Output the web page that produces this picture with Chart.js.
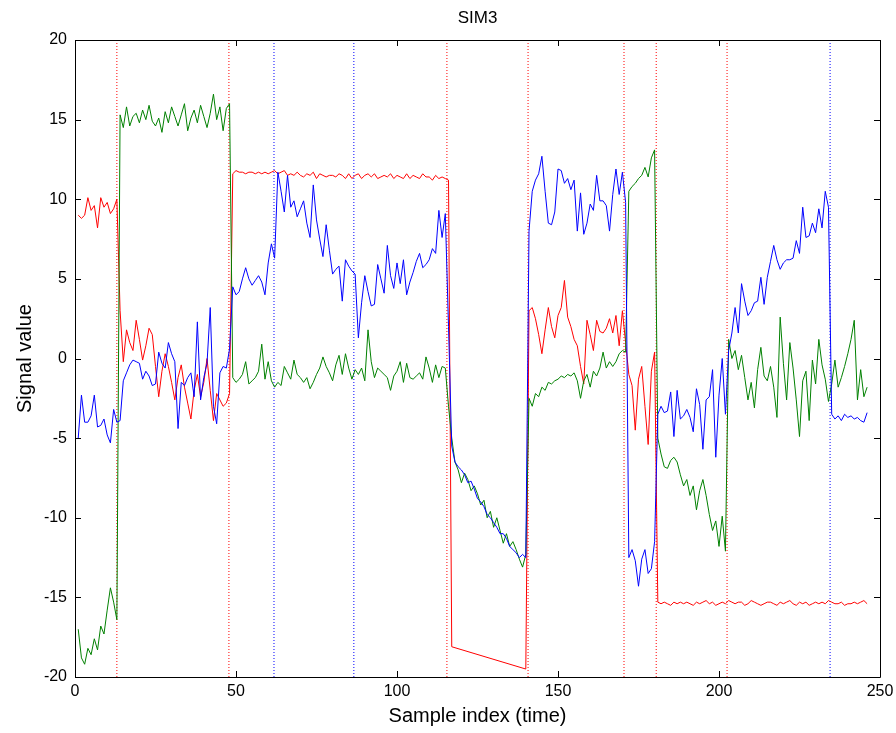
<!DOCTYPE html>
<html>
<head>
<meta charset="utf-8">
<script src="https://cdn.jsdelivr.net/npm/chart.js@4"></script>
<style>
  html, body { margin: 0; padding: 0; background: #fff; }
  #wrap { width: 896px; height: 733px; }
</style>
</head>
<body>
<div id="wrap"><canvas id="simChart" width="896" height="733"></canvas></div>
<script>
// sample values, index 1..246
const redValues = [
  9.0, 8.8, 9.0, 10.1, 9.3, 9.6, 8.2, 10.1, 9.5, 9.8, 9.1, 9.4, 10.0,
  3.0, -0.2, 1.8, 1.0, 0.5, 2.4, 1.2, -0.1, 0.8, 1.9, 1.5, -0.5, -2.4, -0.8, 0.3, -0.5, -1.5, -2.6, -1.2, -0.4,
  -1.8, -2.8, -3.8, -2.0, -1.0, -2.4, -1.5, 0.0, -2.0, -3.9, -2.2, -2.6, -3.0, -2.8, -2.2,
  11.6, 11.8, 11.7, 11.7, 11.6, 11.7, 11.7, 11.6, 11.7, 11.6,
  11.7, 11.6, 11.7, 11.8, 11.6, 11.7, 11.8, 11.5, 11.6, 11.5,
  11.7, 11.5, 11.4, 11.6, 11.5, 11.7, 11.3, 11.6, 11.5, 11.4,
  11.5, 11.5, 11.4, 11.6, 11.5, 11.3, 11.6, 11.3, 11.5, 11.6,
  11.3, 11.5, 11.6, 11.4, 11.6, 11.3, 11.4, 11.5, 11.4, 11.6,
  11.3, 11.5, 11.4, 11.3, 11.6, 11.3, 11.5, 11.4, 11.3, 11.6,
  11.4, 11.4, 11.2, 11.5, 11.3, 11.4, 11.3, 11.2,
  -18.1, null, null, null, null, null, null, null, null, null, null, null,
  null, null, null, null, null, null, null, null, null, null, null, -19.5,
  3.0, 3.2, 2.5, 1.5, 0.3, 1.8, 3.2, 2.0, 1.3, 2.7,
  3.2, 4.9, 2.6, 2.0, 1.2, 0.8, -0.5, -1.6, 2.4, 1.5,
  0.5, 2.4, 1.7, 1.6, 1.9, 2.5, 1.6, 2.7, 0.8, 3.0, 1.0,
  -1.0, -1.7, -4.5, -1.3, -0.5, -3.0, -5.4, -0.8, 0.4,
  -15.3, -15.4, -15.3, -15.4, -15.5, -15.3, -15.4, -15.3, -15.4, -15.3,
  -15.4, -15.5, -15.3, -15.4, -15.3, -15.2, -15.4, -15.3, -15.5, -15.4,
  -15.3, -15.4, -15.2, -15.3, -15.4, -15.3, -15.3, -15.5, -15.4, -15.2,
  -15.3, -15.4, -15.5, -15.4, -15.3, -15.3, -15.4, -15.5, -15.3, -15.4,
  -15.3, -15.2, -15.4, -15.5, -15.3, -15.4, -15.3, -15.5, -15.4, -15.3,
  -15.4, -15.3, -15.4, -15.2, -15.3, -15.4, -15.4, -15.3, -15.5, -15.4,
  -15.4, -15.3, -15.4, -15.3, -15.2, -15.4
];

const greenValues = [
  -17.0, -18.8, -19.2, -18.2, -18.6, -17.6, -18.3, -16.8, -17.3, -15.8, -14.4, -15.3, -16.4,
  15.3, 14.5, 15.8, 14.6, 15.2, 15.4, 14.8, 15.6, 15.0, 15.9,
  14.9, 14.6, 15.1, 14.2, 15.5, 14.8, 15.8, 15.2, 14.6, 15.3,
  16.0, 14.3, 15.1, 15.6, 14.8, 15.9, 15.2, 14.5, 15.4, 16.6,
  15.0, 15.8, 14.3, 15.7, 16.0,
  -1.2, -1.5, -1.3, -1.0, -0.2, -1.6, -1.4, -1.2, -0.8, 0.9,
  -1.3, -0.2, -1.4, -1.8, -1.5, -1.7, -0.5, -0.9, -1.3, -0.1,
  -1.0, -1.2, -1.5, -1.2, -1.9, -1.5, -1.0, -0.6, 0.1, -0.5,
  -0.9, -1.4, -0.4, 0.2, -1.0, 0.3, -0.6, -1.3, -0.7, -1.0,
  -0.6, -1.4, 1.8, -0.2, -1.2, -0.6, -0.8, -1.0, -1.2, -2.0,
  -1.1, -0.8, -0.2, -1.5, -0.3, -1.2, -1.3, -1.1, -0.9, -1.3,
  0.1, -0.6, -1.5, -0.4, -1.2, -0.5, -0.6, -3.0,
  -5.0, -6.5, -7.0, -7.8, -7.2, -7.6, -8.3, -8.0, -8.5, -9.2,
  -8.9, -10.0, -9.6, -10.6, -10.0, -10.8, -11.6, -11.0, -11.8, -11.5,
  -12.0, -12.6, -13.1, -12.3,
  -2.5, -3.0, -2.2, -2.4, -1.8, -2.0, -1.5, -1.6, -1.4, -1.3,
  -1.1, -1.2, -1.0, -1.1, -0.9, -1.4, -2.5, -1.4, -1.0, -1.8,
  -0.8, -1.1, -0.6, 0.4, -0.6, -0.2, -0.5, -0.2, 0.3, 0.5, 0.4,
  10.5, 10.8, 11.0, 11.3, 11.5, 12.0, 11.4, 12.6, 13.1,
  -5.0, -6.0, -6.8, -6.9, -6.4, -6.2, -6.5, -7.3, -8.0, -7.6,
  -8.6, -8.0, -9.5, -8.3, -7.6, -8.6, -9.8, -10.8, -10.2, -11.8, -9.9, -12.1,
  1.2, 0.0, 0.5, -0.7, 0.2, -1.2, -2.6, -1.5, -3.1, -0.7,
  0.7, -1.1, -1.4, -0.5, -1.8, -3.7, 2.6, -0.3, -2.6, 1.0,
  -0.6, -2.6, -4.9, -1.4, -0.8, -3.9, -0.1, -1.6, 1.2, -0.4,
  -1.3, -2.7,
  -1.6, -0.1, -1.8, -1.2, -0.5, 0.3, 1.2, 2.4, -2.6, -0.7, -2.4, -1.8
];

const blueValues = [
  -5.0, -2.3, -4.0, -4.0, -3.6, -2.3, -4.3, -4.2, -3.8, -4.8, -5.3, -3.2, -4.0,
  -3.9, -1.4, -0.9, -0.4, -0.1, -0.2, -0.3, -1.3, -0.8, -1.1,
  -1.7, -1.6, 0.4, -0.3, -0.6, 1.0, 0.3, -0.2, -4.4, -1.5,
  -1.7, -1.2, -0.9, -2.4, 2.3, -2.6, -1.2, -0.3, 3.2, -3.0,
  -4.1, -0.9, -0.5, -0.6, 0.6,
  4.5, 4.0, 4.2, 5.0, 5.7, 5.0, 4.6, 4.9, 5.2, 4.8,
  4.0, 6.0, 7.2, 6.3, 11.7, 10.5, 9.2, 11.5, 9.5, 9.9,
  8.9, 9.4, 9.9, 8.5, 7.6, 10.9, 8.7, 7.5, 6.4, 8.4,
  6.8, 5.3, 5.6, 5.8, 3.6, 6.2, 5.8, 5.5, 5.3, 1.3,
  3.5, 5.2, 4.2, 3.3, 3.4, 5.9, 5.0, 4.1, 7.1, 5.2,
  4.4, 6.0, 4.7, 6.2, 4.0, 4.8, 5.4, 6.1, 6.6, 5.7,
  5.9, 6.2, 6.9, 6.6, 9.3, 7.6, 9.1, 2.0,
  -5.5, -6.5, -6.8, -7.0, -7.3, -7.8, -7.7, -8.2, -8.8, -9.0,
  -9.3, -9.8, -10.0, -10.3, -10.6, -11.0, -11.0, -11.3, -11.8, -12.0,
  -12.2, -12.5, -12.3, -12.5,
  8.0, 10.5, 11.2, 11.6, 12.7, 10.5, 8.5, 8.4, 9.2, 11.9,
  11.8, 11.0, 11.3, 10.6, 11.2, 8.0, 10.4, 7.8, 8.5, 9.7,
  9.3, 11.5, 9.9, 9.9, 9.6, 8.0, 10.3, 11.9, 10.3, 11.7, 9.8,
  -12.5, -12.0, -12.7, -14.3, -12.6, -12.0, -13.5, -13.2, -11.5,
  -3.5, -3.0, -3.4, -3.3, -2.1, -4.9, -2.0, -3.8, -3.6, -3.2,
  -3.7, -4.6, -1.9, -2.9, -5.7, -2.6, -2.4, -0.7, -6.2, -2.3, 0.0, -3.5,
  0.5, 1.6, 3.2, 1.6, 4.7, 3.6, 2.7, 3.0, 3.5, 3.6,
  5.1, 3.4, 5.1, 6.1, 7.1, 6.2, 5.6, 6.0, 6.2, 6.2,
  6.3, 7.4, 6.6, 9.5, 7.6, 7.7, 8.5, 7.9, 9.4, 8.2,
  10.5, 9.5,
  -3.5, -3.8, -3.6, -3.9, -3.5, -3.7, -3.6, -3.8, -3.7, -3.9, -4.0, -3.4
];

// detected change points (dotted vertical markers)
const redChangePoints = [13, 47.8, 115.5, 140.7, 170.5, 180.5, 202.5];
const blueChangePoints = [61.8, 86.6, 234.5];

const xTicks = [0, 50, 100, 150, 200, 250];
const yTicks = [-20, -15, -10, -5, 0, 5, 10, 15, 20];

const chartTitle = 'SIM3';

const toPoints = (values) => values.map((v, i) => ({ x: i + 1, y: v }));

const markerSets = (positions, color) => positions.map((pos) => ({
  data: [{ x: pos, y: yTicks[0] }, { x: pos, y: yTicks[yTicks.length - 1] }],
  borderColor: color,
  borderWidth: 1,
  borderDash: [1, 2],
  pointRadius: 0,
  order: 10,
}));

const font = 'Liberation Sans, Arial, sans-serif';

// box around the axes with inward ticks, and the title centred over the axes
const axesBox = {
  id: 'axesBox',
  afterDraw(chart) {
    const { ctx, chartArea: a, scales } = chart;
    const len = 6;
    ctx.save();
    ctx.strokeStyle = '#000';
    ctx.lineWidth = 1;
    ctx.beginPath();
    ctx.rect(Math.round(a.left) + 0.5, Math.round(a.top) + 0.5,
      Math.round(a.right - a.left), Math.round(a.bottom - a.top));
    xTicks.forEach((t) => {
      const px = Math.round(scales.x.getPixelForValue(t)) + 0.5;
      ctx.moveTo(px, a.bottom); ctx.lineTo(px, a.bottom - len);
      ctx.moveTo(px, a.top); ctx.lineTo(px, a.top + len);
    });
    yTicks.forEach((t) => {
      const py = Math.round(scales.y.getPixelForValue(t)) + 0.5;
      ctx.moveTo(a.left, py); ctx.lineTo(a.left + len, py);
      ctx.moveTo(a.right, py); ctx.lineTo(a.right - len, py);
    });
    ctx.stroke();

    ctx.fillStyle = '#000';
    ctx.font = '17px ' + font;
    ctx.textAlign = 'center';
    ctx.textBaseline = 'middle';
    ctx.fillText(chartTitle, (a.left + a.right) / 2, 18);
    ctx.restore();
  },
};

new Chart(document.getElementById('simChart').getContext('2d'), {
  type: 'line',
  data: {
    datasets: [
      { data: toPoints(blueValues), borderColor: '#0000ff', borderWidth: 1, pointRadius: 0, order: 1 },
      { data: toPoints(greenValues), borderColor: '#008000', borderWidth: 1, pointRadius: 0, order: 2 },
      { data: toPoints(redValues), borderColor: '#ff0000', borderWidth: 1, pointRadius: 0, spanGaps: true, order: 3 },
      ...markerSets(redChangePoints, '#ff0000'),
      ...markerSets(blueChangePoints, '#0000ff'),
    ],
  },
  options: {
    responsive: false,
    animation: false,
    events: [],
    layout: { padding: { top: 40, right: 16, bottom: 0, left: 0 } },
    elements: { line: { tension: 0 } },
    plugins: {
      legend: { display: false },
      tooltip: { enabled: false },
      title: { display: false },
    },
    scales: {
      x: {
        type: 'linear',
        min: 0,
        max: 250,
        afterBuildTicks: (scale) => { scale.ticks = xTicks.map((v) => ({ value: v })); },
        ticks: { color: '#000', font: { family: font, size: 16 }, padding: 5, maxRotation: 0 },
        grid: { display: false, drawTicks: false },
        border: { display: false },
        title: {
          display: true,
          text: 'Sample index (time)',
          color: '#000',
          font: { family: font, size: 20 },
          padding: { top: 0, bottom: 5 },
        },
        afterFit: (scale) => {
          scale.height = 56;
          scale.paddingLeft = 0;
          scale.paddingRight = 0;
        },
      },
      y: {
        min: -20,
        max: 20,
        afterBuildTicks: (scale) => { scale.ticks = yTicks.map((v) => ({ value: v })); },
        ticks: { color: '#000', font: { family: font, size: 16 }, padding: 8 },
        grid: { display: false, drawTicks: false },
        border: { display: false },
        title: {
          display: true,
          text: 'Signal value',
          color: '#000',
          font: { family: font, size: 20 },
          padding: { top: 13, bottom: 0 },
        },
        afterFit: (scale) => {
          scale.width = 75;
          scale.paddingTop = 0;
          scale.paddingBottom = 0;
        },
      },
    },
  },
  plugins: [axesBox],
});
</script>
</body>
</html>
